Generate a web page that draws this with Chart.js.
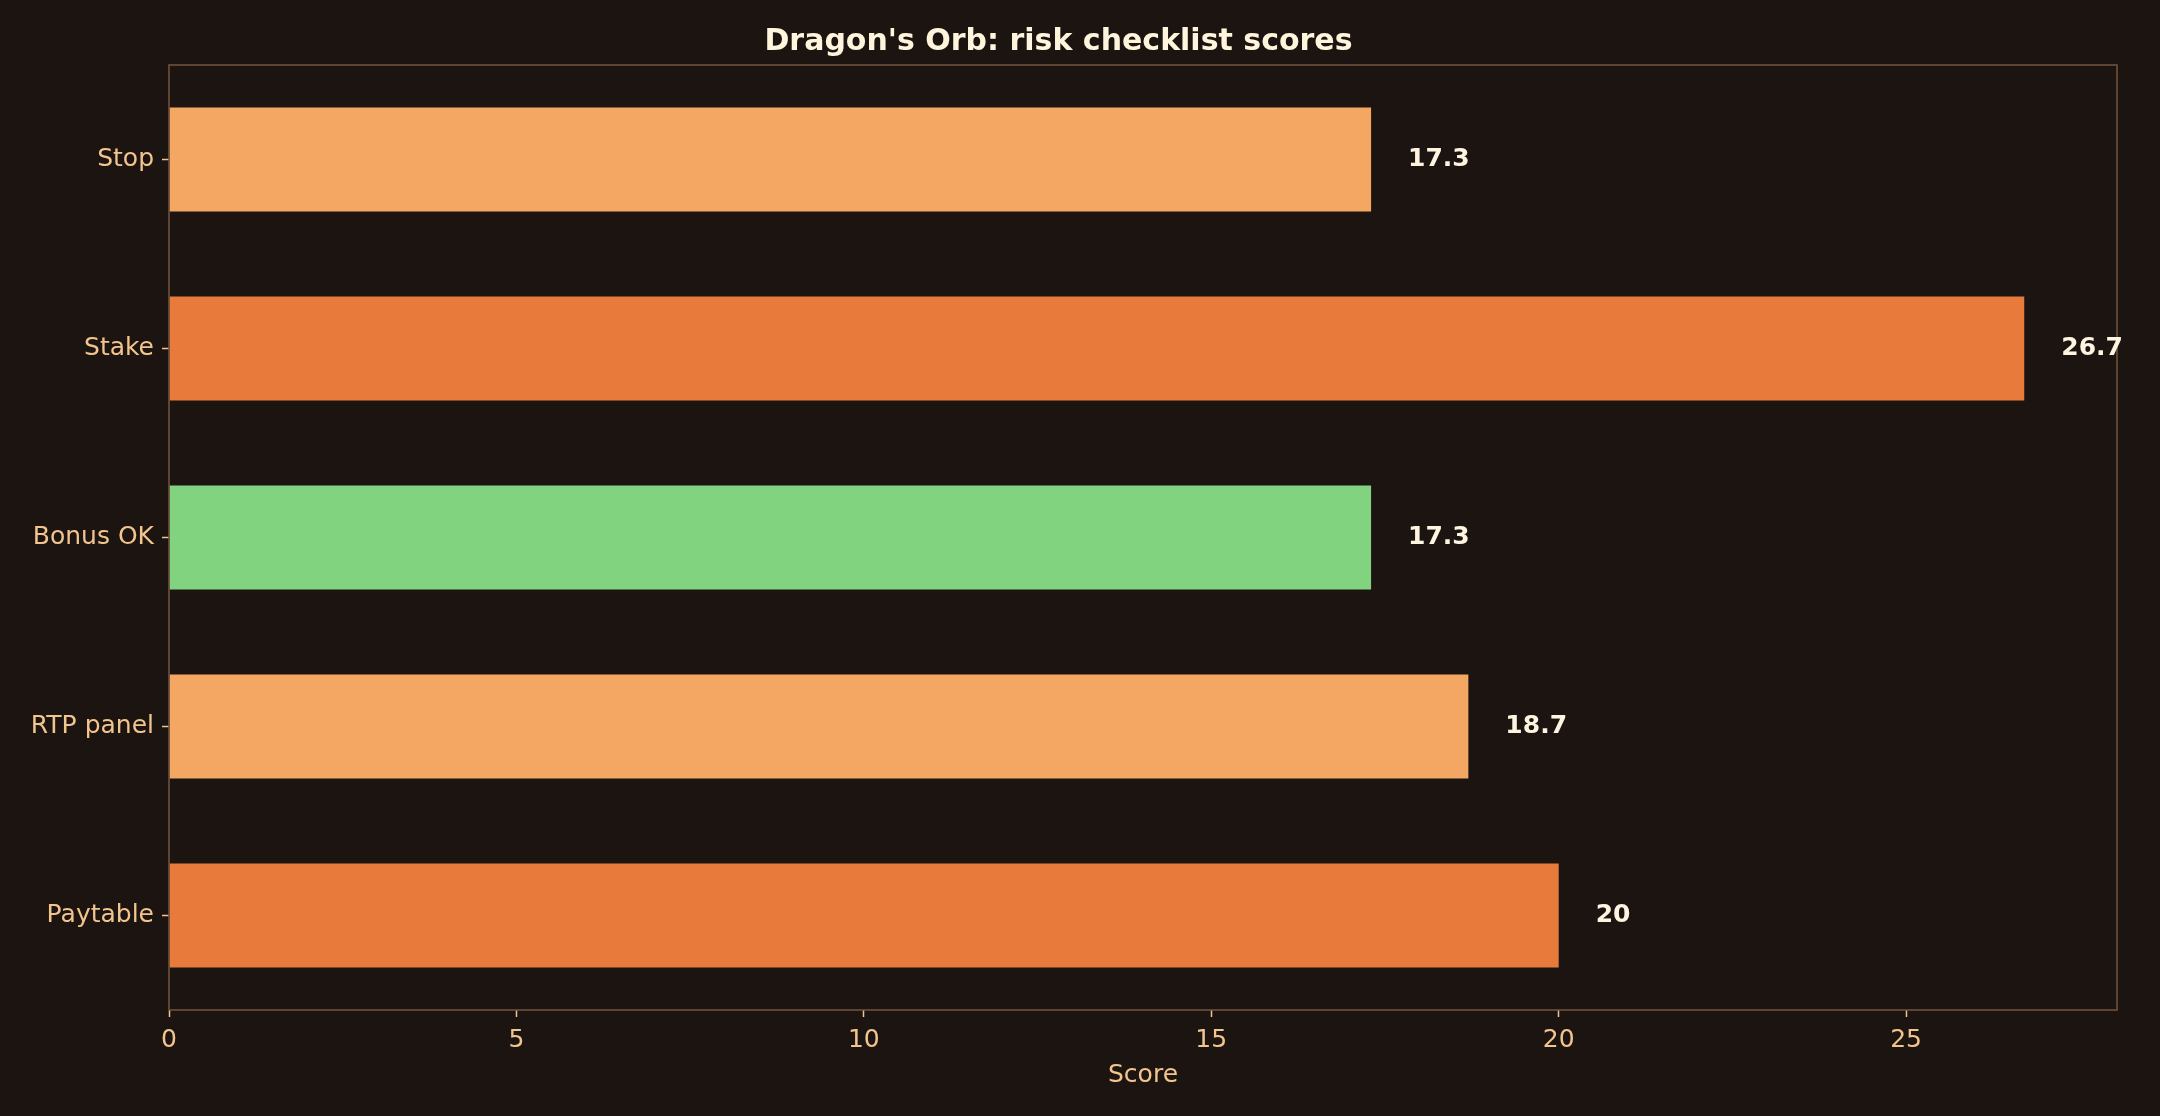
<!DOCTYPE html>
<html>
<head>
<meta charset="utf-8">
<title>Dragon's Orb: risk checklist scores</title>
<script src="https://cdn.jsdelivr.net/npm/chart.js@4.4.1/dist/chart.umd.min.js"></script>
<style>
    html, body { margin: 0; padding: 0; background: #1c1410; }
    canvas { display: block; }
</style>
</head>
<body>
<canvas id="riskChart" width="2160" height="1116"></canvas>
<script>
const categories = ['Stop', 'Stake', 'Bonus OK', 'RTP panel', 'Paytable'];
const scores = [17.3, 26.7, 17.3, 18.7, 20];
const barColors = ['#f4a663', '#e87b3b', '#82d37f', '#f4a663', '#e87b3b'];
const xTicks = [0, 5, 10, 15, 20, 25];
const xMax = 28.035;

const tickColor = '#f2c48e';
const spineColor = '#74553f';

// frame round the plot area, all four sides
const framePlugin = {
    id: 'frame',
    afterDatasetsDraw(chart) {
        const { ctx, chartArea } = chart;
        ctx.save();
        ctx.strokeStyle = spineColor;
        ctx.lineWidth = 1.5;
        ctx.strokeRect(chartArea.left, chartArea.top, chartArea.right - chartArea.left, chartArea.bottom - chartArea.top);
        ctx.restore();
    }
};

// score printed just past the end of each bar
const valueLabels = {
    id: 'valueLabels',
    afterDatasetsDraw(chart) {
        const { ctx } = chart;
        const meta = chart.getDatasetMeta(0);
        const xScale = chart.scales.x;
        ctx.save();
        ctx.font = 'bold 25px "DejaVu Sans"';
        ctx.fillStyle = '#fff4e0';
        ctx.textAlign = 'left';
        ctx.textBaseline = 'middle';
        meta.data.forEach((bar, i) => {
            const v = scores[i];
            ctx.fillText(String(v), xScale.getPixelForValue(v) + 37, bar.y);
        });
        ctx.restore();
    }
};

new Chart(document.getElementById('riskChart').getContext('2d'), {
    type: 'bar',
    data: {
        labels: categories,
        datasets: [{
            label: 'Score',
            data: scores,
            backgroundColor: barColors,
            borderWidth: 0,
            barPercentage: 0.55,
            categoryPercentage: 1.0,
        }],
    },
    options: {
        indexAxis: 'y',
        responsive: false,
        animation: false,
        devicePixelRatio: 1,
        layout: { padding: { left: 0, right: 43, top: 0, bottom: 26 } },
        plugins: {
            legend: { display: false },
            tooltip: { enabled: false },
            title: {
                display: true,
                text: "Dragon's Orb: risk checklist scores",
                color: '#fff4dc',
                font: { family: 'DejaVu Sans', size: 30, weight: 'bold' },
                padding: { top: 24, bottom: 5 },
            },
        },
        scales: {
            x: {
                type: 'linear',
                min: 0,
                max: xMax,
                afterBuildTicks: (scale) => { scale.ticks = xTicks.map(v => ({ value: v })); },
                afterFit: (scale) => { scale.height = 80; },
                ticks: {
                    color: tickColor,
                    font: { family: 'DejaVu Sans', size: 25 },
                    padding: 8,
                },
                grid: {
                    drawOnChartArea: false,
                    drawTicks: true,
                    tickLength: 7,
                    tickColor: tickColor,
                    tickWidth: 1.5,
                },
                border: { display: false },
                title: {
                    display: true,
                    text: 'Score',
                    color: tickColor,
                    font: { family: 'DejaVu Sans', size: 25 },
                    padding: { top: 6, bottom: 0 },
                },
            },
            y: {
                type: 'category',
                offset: true,
                afterFit: (scale) => { scale.width = 169; },
                ticks: {
                    color: tickColor,
                    font: { family: 'DejaVu Sans', size: 25 },
                    padding: 8,
                },
                grid: {
                    offset: false,
                    drawOnChartArea: false,
                    drawTicks: true,
                    tickLength: 7,
                    tickColor: tickColor,
                    tickWidth: 1.5,
                },
                border: { display: false },
            },
        },
    },
    plugins: [framePlugin, valueLabels],
});
</script>
</body>
</html>
